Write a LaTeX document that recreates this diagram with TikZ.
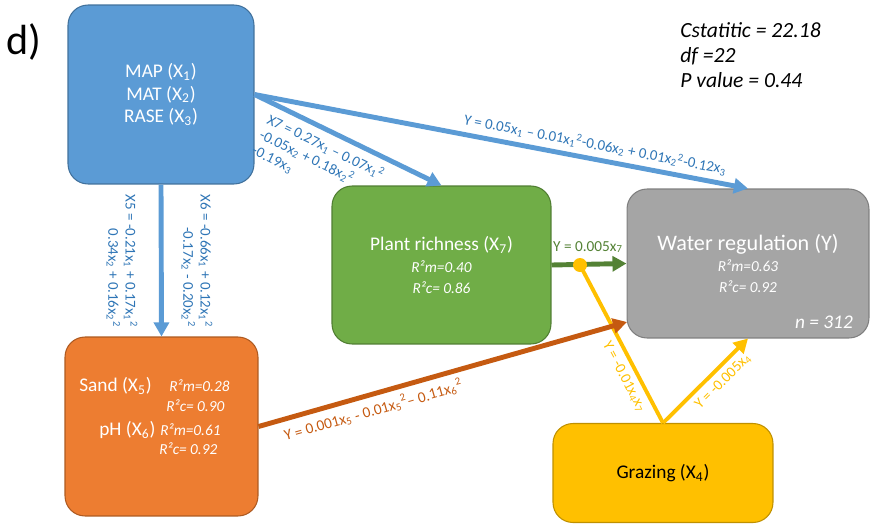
\documentclass[tikz,border=0pt]{standalone}
\usepackage{fontspec}
\setmainfont{Carlito}
\usepackage{xcolor}
\usetikzlibrary{arrows.meta,positioning,calc}

\definecolor{mapblue}{HTML}{5B9BD5}
\definecolor{mapedge}{HTML}{41719C}
\definecolor{eqblue}{HTML}{2E75B6}
\definecolor{richgreen}{HTML}{70AD47}
\definecolor{richedge}{HTML}{507E32}
\definecolor{arrgreen}{HTML}{548235}
\definecolor{watergray}{HTML}{A5A5A5}
\definecolor{wateredge}{HTML}{7F7F7F}
\definecolor{sandorange}{HTML}{ED7D31}
\definecolor{sandedge}{HTML}{AE5A21}
\definecolor{arrorange}{HTML}{C55A11}
\definecolor{grazyellow}{HTML}{FFC000}
\definecolor{grazedge}{HTML}{BF9000}

\newcommand{\rsqfont}{\fontsize{8.7}{10.2}\selectfont\itshape}
\newcommand{\boxfont}{\fontsize{11}{12.8}\selectfont}

\tikzset{
  box/.style={draw, rounded corners=0.4cm, line width=0.6pt, align=center, inner sep=0pt, text=white},
  link/.style={line width=2.8pt, -{Triangle[length=8pt,width=8.5pt]}},
  eq/.style={font=\fontsize{8.5}{9.8}\selectfont, inner sep=1pt},
  rsq/.style={font=\rsqfont},
  lbl/.style={anchor=west, inner sep=0pt, text=white}
}

\begin{document}
\begin{tikzpicture}[x=0.02cm, y=-0.02cm]
            \useasboundingbox (0,0) rectangle (870,525);

            \node[font=\fontsize{24}{26}\selectfont] (tag) at (24,42) {d)};
            \node[anchor=north west, align=left, inner sep=0pt, font=\fontsize{12.3}{14.2}\selectfont\itshape] (stats) at (680,22) {Cstatitic = 22.18\\df =22\\P value = 0.44};

            \node[box, fill=mapblue, draw=mapedge, minimum width=3.72cm, minimum height=3.58cm, font=\boxfont] (map) at (161,94.5) {MAP (X\textsubscript{1})\\MAT (X\textsubscript{2})\\RASE (X\textsubscript{3})};
            \node[box, fill=richgreen, draw=richedge, minimum width=4.38cm, minimum height=3.16cm] (rich) at (441.5,265) {{\boxfont Plant richness (X\textsubscript{7})}\\{\rsqfont R²m=0.40}\\{\rsqfont R²c= 0.86}};
            \node[box, fill=watergray, draw=wateredge, minimum width=4.84cm, minimum height=2.98cm] (water) at (748,263.5) {{\fontsize{12.6}{14.5}\selectfont Water regulation (Y)}\\{\rsqfont R²m=0.63}\\{\rsqfont R²c= 0.92}};
            \node[anchor=east, text=white, font=\fontsize{11}{13}\selectfont\itshape] (nval) at (859,322) {n = 312};
            \node[box, fill=sandorange, draw=sandedge, minimum width=3.86cm, minimum height=3.58cm] (sand) at (161.5,426.5) {};
            \node[box, fill=grazyellow, draw=grazedge, text=black, minimum width=4.4cm, minimum height=1.98cm, font=\boxfont] (graz) at (663,473) {Grazing (X\textsubscript{4})};

            \node[lbl, font=\boxfont] (sandlbl) at (79,386) {Sand (X\textsubscript{5})};
            \node[lbl, rsq] (sandrm) at (169,386) {R²m=0.28};
            \node[lbl, rsq] (sandrc) at (166,406) {R²c= 0.90};
            \node[lbl, font=\boxfont] (phlbl) at (99,430) {pH (X\textsubscript{6})};
            \node[lbl, rsq] (phrm) at (160,430) {R²m=0.61};
            \node[lbl, rsq] (phrc) at (159,449) {R²c= 0.92};

            \draw[link, mapblue] (map.south) -- (sand.north);
            \node[eq, text=eqblue, rotate=-90, align=right] (eqx5) at (122,261) {X5 = -0.21x\textsubscript{1} + 0.17x\textsubscript{1}\textsuperscript{2}\\0.34x\textsubscript{2} + 0.16x\textsubscript{2}\textsuperscript{2}};
            \node[eq, text=eqblue, rotate=-90, align=right] (eqx6) at (197,261) {X6 = -0.66x\textsubscript{1} + 0.12x\textsubscript{1}\textsuperscript{2}\\-0.17x\textsubscript{2} - 0.20x\textsubscript{2}\textsuperscript{2}};

            \draw[link, mapblue] (map.east) -- (rich.north);
            \node[eq, text=eqblue, rotate=-26, align=left, anchor=north west, inner sep=0pt] (eqx7) at (271,112) {X7 = 0.27x\textsubscript{1} – 0.07x\textsubscript{1}\textsuperscript{2}\\-0.05x\textsubscript{2} + 0.18x\textsubscript{2}\textsuperscript{2}\\-0.19x\textsubscript{3}};

            \draw[link, mapblue] (map.east) -- (water.north) node[eq, text=eqblue, pos=0.685, above=2pt, sloped] (eqy) {Y = 0.05x\textsubscript{1} – 0.01x\textsubscript{1}\textsuperscript{2}-0.06x\textsubscript{2} + 0.01x\textsubscript{2}\textsuperscript{2}-0.12x\textsubscript{3}};

            \draw[link, arrgreen] (rich.east) -- (water.west);
            \node[eq, text=arrgreen, font=\fontsize{8.7}{10}\selectfont] (eqrich) at (588,247) {Y = 0.005x\textsubscript{7}};

            \coordinate (dot) at (580,265);
            \draw[line width=2.2pt, grazyellow] (dot) -- (graz.north) node[eq, text=grazyellow, pos=0.67, below=2pt, sloped] (eqint) {Y = -0.01x\textsubscript{4}x\textsubscript{7}};
            \node[circle, fill=grazyellow, inner sep=0pt, minimum size=0.28cm] (dotnode) at (dot) {};
            \draw[link, grazyellow, line width=2.2pt] (graz.north) -- (water.south) node[eq, text=grazyellow, pos=0.6, below=2pt, sloped] (eqgraz) {Y = -0.005x\textsubscript{4}};

            \coordinate (wlow) at (627,322);
            \draw[link, arrorange] (sand.east) -- (wlow) node[eq, text=arrorange, font=\fontsize{8.7}{10}\selectfont, pos=0.3, below=2pt, sloped] (eqsand) {Y = 0.001x\textsubscript{5} - 0.01x\textsubscript{5}\textsuperscript{2}– 0.11x\textsubscript{6}\textsuperscript{2}};
        \end{tikzpicture}
\end{document}
